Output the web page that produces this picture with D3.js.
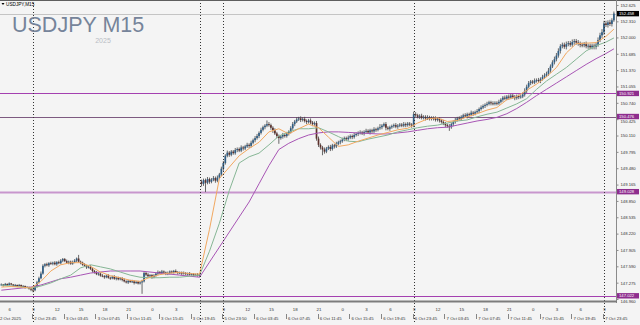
<!DOCTYPE html>
<html><head><meta charset="utf-8">
<script src="https://cdn.jsdelivr.net/npm/d3@7"></script>
<style>
html,body{margin:0;padding:0;background:#f4f4f4;overflow:hidden;}
svg{display:block;}
text{font-family:"Liberation Sans",Arial,sans-serif;}
</style></head><body>
<svg id="c" width="640" height="325"></svg>
<script>
// ---------- DATA ----------
const symbolLabel = "USDJPY,M15";
const titleText = "USDJPY M15";
const yearText = "2025";

const firstOpen = 147.23;
const closes = [
147.24,147.22,147.25,147.23,147.26,147.24,147.22,147.23,147.21,147.23,
147.20,147.21,147.18,147.19,147.16,147.14,147.13,147.20,147.28,147.36,
147.45,147.60,147.63,147.61,147.65,147.64,147.66,147.63,147.67,147.65,
147.70,147.73,147.69,147.66,147.68,147.64,147.67,147.70,147.74,147.68,
147.66,147.62,147.60,147.57,147.58,147.54,147.50,147.47,147.44,147.45,
147.41,147.40,147.38,147.41,147.37,147.36,147.39,147.35,147.37,147.34,
147.36,147.33,147.30,147.28,147.31,147.29,147.30,147.27,147.29,147.26,
147.28,147.30,147.46,147.43,147.40,147.42,147.38,147.41,147.45,147.48,
147.46,147.49,147.47,147.44,147.46,147.49,147.47,147.50,147.48,147.46,
147.47,147.45,147.46,147.44,147.45,147.43,147.44,147.42,147.43,147.41,
147.44,149.18,149.25,149.20,149.27,149.22,149.26,149.29,149.24,149.30,
149.36,149.47,149.58,149.72,149.78,149.74,149.80,149.77,149.83,149.85,
149.82,149.88,149.86,149.90,149.93,149.91,149.97,150.02,150.06,150.10,
150.16,150.22,150.27,150.30,150.33,150.31,150.26,150.21,150.15,150.10,
150.06,150.09,150.12,150.10,150.15,150.18,150.25,150.33,150.38,150.42,
150.44,150.41,150.43,150.39,150.37,150.40,150.36,150.33,150.35,150.05,
149.93,149.88,149.84,149.80,149.86,149.89,149.85,149.92,149.90,149.95,
149.98,150.00,150.03,150.06,150.04,150.07,150.10,150.08,150.12,150.14,
150.16,150.17,150.15,150.18,150.20,150.17,150.21,150.19,150.23,150.22,
150.25,150.27,150.30,150.33,150.26,150.24,150.27,150.29,150.31,150.28,
150.30,150.32,150.30,150.33,150.31,150.34,150.32,150.30,150.52,150.50,
150.47,150.49,150.45,150.47,150.44,150.46,150.43,150.45,150.44,150.41,
150.43,150.40,150.37,150.34,150.31,150.29,150.27,150.33,150.37,150.41,
150.44,150.43,150.47,150.50,150.48,150.52,150.51,150.55,150.53,150.56,
150.58,150.62,150.65,150.68,150.70,150.72,150.75,150.73,150.72,150.74,
150.73,150.76,150.80,150.84,150.82,150.86,150.84,150.88,150.85,150.83,
150.87,150.85,150.86,150.90,150.97,151.05,151.12,151.15,151.13,151.17,
151.18,151.16,151.20,151.24,151.27,151.30,151.36,151.44,151.52,151.58,
151.65,151.74,151.83,151.86,151.82,151.87,151.89,151.86,151.91,151.93,
151.90,151.88,151.86,151.85,151.87,151.83,151.84,151.81,151.84,151.82,
151.86,151.95,152.04,152.10,152.27,152.24,152.29,152.26,152.33,152.46
];
// opens that differ from the previous close (weekend gap)
const gapOpens = [[101, 149.22]];
// wick lengths above / below the body, in 0.01 yen
const wickHi = [
2,1,2,1,2,1,1,2,1,2, 1,2,1,2,1,2,3,2,3,3, 4,3,2,3,2,3,2,3,2,3, 3,2,2,3,2,2,3,3,2,7,
2,2,3,2,2,3,2,2,3,2, 2,3,2,2,3,2,2,3,2,2, 2,2,3,2,2,2,3,2,2,2, 2,3,3,2,3,2,2,3,2,3,
2,3,2,2,3,2,2,2,3,2, 2,2,3,2,2,3,2,2,2,3, 2,4,3,3,4,3,3,4,3,4, 3,4,4,3,4,3,3,3,4,3,
3,4,3,3,4,3,4,3,4,4, 3,4,3,3,7,4,3,3,4,3, 3,3,4,3,3,3,4,4,3,4, 3,4,3,4,3,3,4,3,3,4,
4,3,3,4,3,3,4,3,3,4, 3,3,4,3,3,4,3,3,4,3, 3,4,3,3,4,3,3,3,4,3, 3,6,3,3,4,3,3,3,3,4,
3,3,3,4,3,3,3,3,5,4, 3,3,4,3,3,4,3,3,3,4, 3,3,3,4,3,3,4,3,3,4, 3,4,3,3,4,3,3,4,3,3,
4,3,4,3,3,4,3,3,4,3, 3,4,3,3,4,3,4,3,3,4, 3,3,4,4,5,4,4,3,3,4, 3,4,3,4,4,4,5,4,4,5,
5,5,4,4,4,5,4,4,5,4, 4,5,4,4,4,5,4,4,4,4, 4,5,5,6,5,5,4,5,4,4
];
const wickLo = [
1,2,1,2,1,2,2,1,2,1, 2,1,2,1,2,3,4,2,2,2, 2,2,3,2,3,2,3,2,3,2, 2,3,2,2,3,2,2,2,3,2,
3,2,2,3,2,2,3,2,2,3, 2,2,3,2,2,3,2,2,3,2, 2,3,2,2,3,2,2,3,2,2, 2,22,2,3,2,2,3,2,2,3,
2,2,3,2,2,3,2,2,2,3, 2,3,2,2,3,2,2,3,2,2, 3,5,4,18,3,4,3,3,4,3, 3,3,4,3,3,4,3,3,3,4,
3,3,4,3,3,4,3,3,4,3, 4,3,3,4,3,3,4,5,3,4, 11,3,4,3,3,4,3,3,4,3, 3,4,3,3,4,3,3,4,3,4,
4,4,11,4,3,3,4,3,4,3, 3,4,3,3,4,3,3,4,3,3, 4,3,3,4,3,3,4,3,3,4, 3,3,4,3,5,3,4,3,3,3,
4,3,3,3,4,3,3,4,3,3, 3,4,3,3,4,3,3,3,4,3, 3,4,3,3,4,3,7,3,4,3, 3,3,4,3,3,4,3,3,4,3,
3,4,3,3,4,3,3,4,3,3, 4,3,3,4,3,3,4,3,3,4, 3,4,3,3,4,4,3,4,3,3, 4,3,4,3,4,3,4,4,3,4,
4,4,5,4,4,5,4,4,4,5, 4,4,5,4,4,4,5,4,4,5, 5,4,4,5,5,4,5,4,5,3
];

// moving averages read every 5 bars (last point = last bar)
const maFast = [
147.19,147.20,147.19,147.17,147.30,147.50,147.62,147.66,147.66,147.59,
147.48,147.41,147.37,147.32,147.30,147.38,147.43,147.46,147.47,147.45,
147.44,148.30,149.28,149.50,149.72,149.86,149.98,150.18,150.24,150.14,
150.24,150.33,150.26,150.08,149.90,149.93,150.00,150.06,150.12,150.17,
150.22,150.25,150.35,150.43,150.45,150.38,150.40,150.47,150.53,150.60,
150.65,150.80,150.86,150.98,151.10,151.24,151.42,151.70,151.88,151.89,
151.90,152.02,152.16
];
const maMid = [
147.23,147.21,147.19,147.17,147.21,147.27,147.35,147.42,147.56,147.62,
147.58,147.54,147.48,147.42,147.38,147.37,147.37,147.38,147.38,147.40,
147.42,147.88,148.42,149.05,149.58,149.70,149.77,149.93,150.10,150.18,
150.24,150.24,150.26,150.18,150.09,150.00,149.99,150.04,150.08,150.12,
150.18,150.22,150.26,150.29,150.31,150.35,150.39,150.41,150.47,150.52,
150.56,150.64,150.72,150.82,151.00,151.16,151.29,151.42,151.58,151.74,
151.84,151.91,151.99
];
const maSlow = [
147.13,147.15,147.17,147.19,147.23,147.29,147.35,147.38,147.42,147.46,
147.48,147.50,147.50,147.50,147.50,147.48,147.46,147.44,147.42,147.40,
147.38,147.67,147.96,148.25,148.54,148.83,149.18,149.53,149.84,149.96,
150.05,150.12,150.16,150.18,150.18,150.17,150.16,150.15,150.14,150.14,
150.16,150.18,150.21,150.24,150.26,150.27,150.31,150.35,150.39,150.42,
150.46,150.53,150.63,150.75,150.88,151.00,151.12,151.24,151.36,151.48,
151.59,151.69,151.78
];

const levelPrices = [150.921, 150.476, 149.028, 147.022];
const levelLabels = ["150.921", "150.476", "149.028", "147.022"];
const bidPrice = 152.458;
const bidLabel = "152.458";

const priceTicks = [152.625,152.310,152.000,151.685,151.370,151.055,150.740,150.425,150.110,
  149.795,149.480,149.165,148.850,148.535,148.220,147.905,147.590,147.275,146.960];

const hourBars = [4,16,28,40,52,64,76,88,112,124,136,148,160,172,184,196,208,220,232,244,256,268,280,292,304];
const hourLabels = ["6","9","12","15","18","21","0","3","9","12","15","18","21","0","3","6","9","12","15","18","21","0","3","6","9"];
const dateBars = [16,32,48,64,80,96,112,128,144,160,176,192,208,224,240,256,272,288,304];
const dateLabels = ["2 Oct 23:45","3 Oct 03:45","3 Oct 07:45","3 Oct 11:45","3 Oct 15:45","3 Oct 19:45",
  "5 Oct 23:50","6 Oct 03:45","6 Oct 07:45","6 Oct 11:45","6 Oct 15:45","6 Oct 19:45","6 Oct 23:45",
  "7 Oct 03:45","7 Oct 07:45","7 Oct 11:45","7 Oct 15:45","7 Oct 19:45","7 Oct 23:45"];
const firstDateLabel = "2 Oct 2025";
const separatorBars = [16, 100, 112, 208, 304];

// ---------- LAYOUT ----------
const plotR = 616, plotB = 300;
const svg = d3.select("#c");
const x = d3.scaleLinear().domain([0, closes.length - 1]).range([1.3, 613.9]);
const y = d3.scaleLinear().domain([146.941, 152.721]).range([300, 0]);

svg.append("rect").attr("width", 640).attr("height", 325).attr("fill", "#f4f4f4");

const defs = svg.append("defs");
defs.append("clipPath").attr("id", "plot").append("rect")
  .attr("x", 0).attr("y", 0).attr("width", plotR).attr("height", plotB);

const plot = svg.append("g").attr("clip-path", "url(#plot)");

// bid line
plot.append("line").attr("x1", 0).attr("x2", plotR)
  .attr("y1", Math.round(y(bidPrice)) + 0.5).attr("y2", Math.round(y(bidPrice)) + 0.5)
  .attr("stroke", "#c4c4c4").attr("stroke-width", 1);

// level lines
const levelStyle = [
  {c: "#a440b0", w: 1}, {c: "#7d5a80", w: 1}, {c: "#c896cd", w: 2}, {c: "#a440b0", w: 1}
];
plot.selectAll("line.level").data(levelPrices).join("line").attr("class", "level")
  .attr("x1", 0).attr("x2", plotR)
  .attr("y1", d => Math.round(y(d)) + 0.5).attr("y2", d => Math.round(y(d)) + 0.5)
  .attr("stroke", (d, i) => levelStyle[i].c).attr("stroke-width", (d, i) => levelStyle[i].w);

// candles
const candles = closes.map((c, i) => {
  let o = i === 0 ? firstOpen : closes[i - 1];
  gapOpens.forEach(g => { if (g[0] === i) o = g[1]; });
  const top = Math.max(o, c), bot = Math.min(o, c);
  return {i, o, c, h: top + wickHi[i] / 100, l: bot - wickLo[i] / 100};
});
const bullCol = "#2f5d84", bearCol = "#5c302b";
const cg = plot.append("g");
cg.selectAll("line.wick").data(candles).join("line").attr("class", "wick")
  .attr("x1", d => x(d.i)).attr("x2", d => x(d.i))
  .attr("y1", d => y(d.h)).attr("y2", d => y(d.l))
  .attr("stroke", "#444").attr("stroke-width", 0.8);
cg.selectAll("rect.body").data(candles).join("rect").attr("class", "body")
  .attr("x", d => x(d.i) - 0.85).attr("width", 1.7)
  .attr("y", d => y(Math.max(d.o, d.c)))
  .attr("height", d => Math.max(0.9, Math.abs(y(d.o) - y(d.c))))
  .attr("fill", d => d.c >= d.o ? bullCol : bearCol);

// moving averages
const maBars = d3.range(0, closes.length - 1, 5).concat([closes.length - 1]);
const line = d3.line().x(d => x(d[0])).y(d => y(d[1]));
[[maSlow, "#a855b5"], [maMid, "#86b695"], [maFast, "#f2a860"]].forEach(([arr, col]) => {
  plot.append("path").datum(maBars.map((b, k) => [b, arr[k]]))
    .attr("d", line).attr("fill", "none").attr("stroke", col).attr("stroke-width", 1);
});

// dotted separators
svg.selectAll("line.sep").data(separatorBars).join("line").attr("class", "sep")
  .attr("x1", d => Math.round(x(d)) + 0.5).attr("x2", d => Math.round(x(d)) + 0.5)
  .attr("y1", 0).attr("y2", 322)
  .attr("stroke", "#333").attr("stroke-width", 1).attr("stroke-dasharray", "1,2");

// top border
svg.append("rect").attr("x", 0).attr("y", 0).attr("width", 640).attr("height", 1).attr("fill", "#5e5e5e");

// title
svg.append("path").attr("d", "M1.5,3 L4.5,3 L3,5 Z").attr("fill", "#000");
svg.append("text").attr("x", 6).attr("y", 6).attr("font-size", 4.7).attr("fill", "#000").text(symbolLabel);
svg.append("text").attr("x", 12).attr("y", 32).attr("font-size", 21.5).attr("fill", "#76849a").text(titleText);
svg.append("text").attr("x", 103).attr("y", 43).attr("font-size", 7).attr("text-anchor", "middle")
  .attr("fill", "#b9bdc5").text(yearText);

// price axis
const ya = svg.append("g").attr("transform", `translate(${plotR + 0.5},0)`)
  .call(d3.axisRight(y).tickValues(priceTicks).tickSize(2).tickPadding(2).tickFormat(d3.format(".3f")));
ya.select(".domain").attr("stroke", "#8a8a8a").attr("d", "M0,0V303");
ya.selectAll(".tick line").attr("stroke", "#8a8a8a");
ya.selectAll(".tick text").attr("font-size", 4.2).attr("fill", "#333").attr("font-family", "Liberation Sans, Arial, sans-serif");
// a label sitting just under a level box is pushed below it, as in the terminal
ya.selectAll(".tick").filter(d => levelPrices.some(p => Math.abs(y(p) - y(d)) < 4))
  .select("text").attr("dy", "0.8em");

// price boxes on axis
const boxes = levelPrices.map((p, i) => ({p, t: levelLabels[i], bg: "#8e2d8e"}))
  .concat([{p: bidPrice, t: bidLabel, bg: "#000"}]);
const bg = svg.append("g");
boxes.forEach(b => {
  const yy = y(b.p);
  bg.append("rect").attr("x", 617).attr("y", yy - 2.7).attr("width", 22).attr("height", 5.4).attr("fill", b.bg);
  bg.append("text").attr("x", 619).attr("y", yy + 1.5).attr("font-size", 4.2).attr("fill", "#fff").text(b.t);
});

// time axis band
svg.append("rect").attr("x", 0).attr("y", 300.5).attr("width", plotR + 1).attr("height", 2).attr("fill", "#7c7c7c");

// hour labels
const xa = svg.append("g").attr("transform", "translate(0,303)")
  .call(d3.axisBottom(x).tickValues(hourBars).tickSize(0).tickPadding(4.6)
    .tickFormat((d, i) => hourLabels[i]));
xa.select(".domain").remove();
xa.selectAll(".tick text").attr("font-size", 4.4).attr("fill", "#333").attr("font-family", "Liberation Sans, Arial, sans-serif");

// date labels
const dg = svg.append("g");
dg.selectAll("line.dt").data(dateBars).join("line").attr("class", "dt")
  .attr("x1", d => Math.round(x(d)) - 0.5).attr("x2", d => Math.round(x(d)) - 0.5)
  .attr("y1", 314).attr("y2", 319).attr("stroke", "#555").attr("stroke-width", 0.7);
dg.selectAll("text.dt").data(dateBars).join("text").attr("class", "dt")
  .attr("x", d => x(d) + 1.2).attr("y", 319.5).attr("font-size", 4.3).attr("fill", "#333")
  .text((d, i) => dateLabels[i]);
dg.append("text").attr("x", 0).attr("y", 319.5).attr("font-size", 4.3).attr("fill", "#333").text(firstDateLabel);
</script>
</body></html>
